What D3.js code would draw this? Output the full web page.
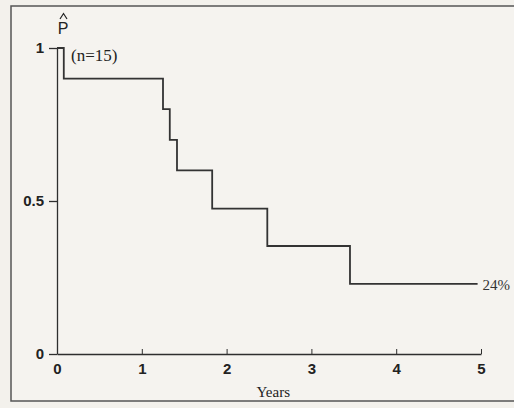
<!DOCTYPE html>
<html>
<head>
<meta charset="utf-8">
<script src="https://cdn.jsdelivr.net/npm/d3@7/dist/d3.min.js"></script>
<style>
  html, body { margin: 0; padding: 0; background: #f3f1ec; }
  svg { display: block; }
</style>
</head>
<body>
<svg id="chart" width="514" height="408"></svg>
<script>
// Kaplan-Meier step data (years, estimated probability)
const eventTimes = [0, 0.08, 1.25, 1.33, 1.415, 1.83, 2.48, 3.455];
const survival   = [1, 0.90, 0.80, 0.70, 0.60, 0.475, 0.353, 0.229];
const endTime = 4.96;
const xTicks = [0, 1, 2, 3, 4, 5];
const yTicks = [0, 0.5, 1];
const yTickLabels = ["0", "0.5", "1"];
const sampleLabel = "(n=15)";
const endLabel = "24%";
const xTitle = "Years";
const yTitle = "P";

const svg = d3.select("#chart");
svg.append("rect").attr("x", 0).attr("y", 0).attr("width", 514).attr("height", 408).attr("fill", "#f3f1ec");

// outer frame (extends past right edge)
svg.append("rect")
  .attr("x", 11).attr("y", 6).attr("width", 530).attr("height", 395)
  .attr("fill", "#f5f3ef").attr("stroke", "#555").attr("stroke-width", 1.5);

const x = d3.scaleLinear().domain([0, 5]).range([57, 481]);
const y = d3.scaleLinear().domain([0, 1]).range([354, 48]);

const ink = "#2e2e2e";

// X axis
const xAxis = d3.axisBottom(x).tickValues(xTicks).tickFormat(d3.format("d"))
  .tickSizeInner(-5).tickSizeOuter(0).tickPadding(9);
const gx = svg.append("g").attr("transform", `translate(0,${y(0)})`).call(xAxis);
gx.select(".domain").attr("stroke", ink).attr("stroke-width", 1.6);
gx.selectAll(".tick line").attr("stroke", ink).attr("stroke-width", 1);
gx.selectAll(".tick text").attr("fill", "#222")
  .style("font-family", "'Liberation Sans', Arial, sans-serif")
  .style("font-size", "15px").style("font-weight", "bold");

// Y axis
const yAxis = d3.axisLeft(y).tickValues(yTicks).tickFormat((d, i) => yTickLabels[i])
  .tickSizeInner(8).tickSizeOuter(0).tickPadding(5);
const gy = svg.append("g").attr("transform", `translate(${x(0)},0)`).call(yAxis);
gy.select(".domain").attr("stroke", ink).attr("stroke-width", 1.3);
gy.selectAll(".tick line").attr("stroke", ink).attr("stroke-width", 1.3);
gy.selectAll(".tick text").attr("fill", "#222")
  .style("font-family", "'Liberation Sans', Arial, sans-serif")
  .style("font-size", "15px").style("font-weight", "bold");

// KM step curve
const pts = eventTimes.map((t, i) => [t, survival[i]]);
pts.push([endTime, survival[survival.length - 1]]);
const line = d3.line().x(d => x(d[0])).y(d => y(d[1])).curve(d3.curveStepAfter);
svg.append("path").datum(pts)
  .attr("d", line).attr("fill", "none")
  .attr("stroke", "#333").attr("stroke-width", 1.8);

// labels
svg.append("text").attr("x", x(0) + 14).attr("y", y(1) + 13)
  .text(sampleLabel).attr("fill", "#222")
  .style("font-family", "'Liberation Serif', 'Times New Roman', serif").style("font-size", "17px");

svg.append("text").attr("x", x(endTime) + 5).attr("y", y(survival[survival.length - 1]) + 6)
  .text(endLabel).attr("fill", "#333")
  .style("font-family", "'Liberation Serif', 'Times New Roman', serif").style("font-size", "15px");

svg.append("text").attr("x", x(2.55)).attr("y", 397).attr("text-anchor", "middle")
  .text(xTitle).attr("fill", "#222")
  .style("font-family", "'Liberation Serif', 'Times New Roman', serif").style("font-size", "15px");

// P with hat (hat drawn as a small path)
svg.append("text").attr("x", 63).attr("y", 34).attr("text-anchor", "middle")
  .text(yTitle).attr("fill", "#222")
  .style("font-family", "'Liberation Sans', Arial, sans-serif").style("font-size", "16px");
svg.append("path").attr("d", "M60,19 L63.5,13.5 L67,19")
  .attr("fill", "none").attr("stroke", "#222").attr("stroke-width", 1.2);
</script>
</body>
</html>
